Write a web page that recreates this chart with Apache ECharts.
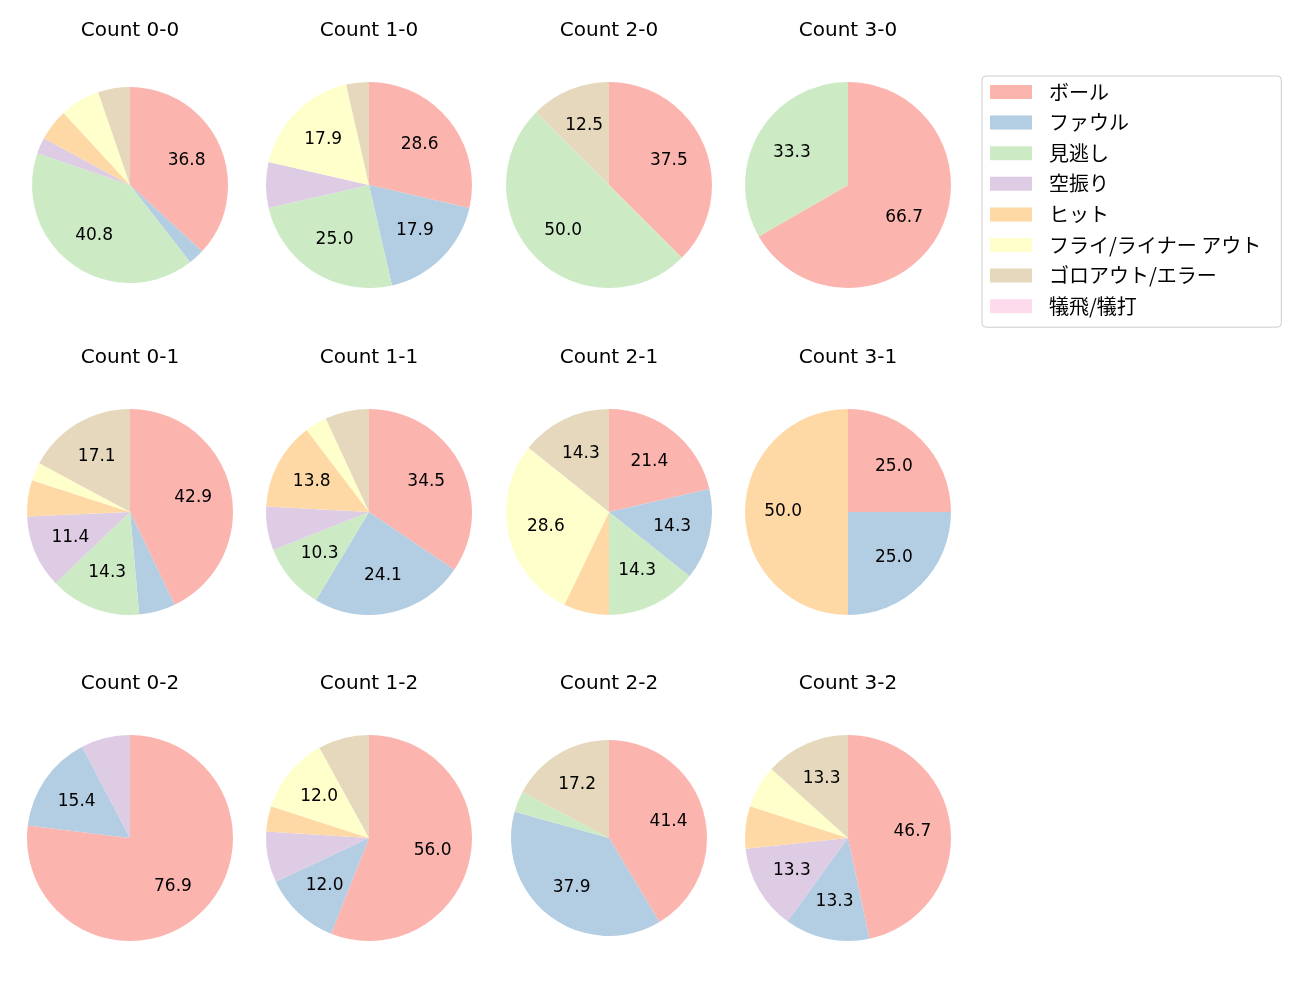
<!DOCTYPE html>
<html>
<head>
<meta charset="utf-8">
<script src="https://cdn.jsdelivr.net/npm/echarts@6/dist/echarts.min.js"></script>
<style>
html,body{margin:0;padding:0;background:#fff;}
#chart{width:1300px;height:1000px;}
</style>
</head>
<body>
<div id="chart"></div>
<script>
// Outcome categories (legend order)
const categories = ['ボール','ファウル','見逃し','空振り','ヒット','フライ/ライナー アウト','ゴロアウト/エラー','犠飛/犠打'];
const colors = ['#fbb4ae','#b3cde3','#ccebc5','#decbe4','#fed9a6','#ffffcc','#e5d8bd','#fddaec'];

// Pitch-count panels (titles) and counts per category
const panelTitles = ['Count 0-0','Count 1-0','Count 2-0','Count 3-0',
                     'Count 0-1','Count 1-1','Count 2-1','Count 3-1',
                     'Count 0-2','Count 1-2','Count 2-2','Count 3-2'];
const count00 = [28, 2, 31, 2, 4, 5, 4, 0];
const count10 = [8, 5, 7, 2, 0, 5, 1, 0];
const count20 = [3, 0, 4, 0, 0, 0, 1, 0];
const count30 = [2, 0, 1, 0, 0, 0, 0, 0];
const count01 = [15, 2, 5, 4, 2, 1, 6, 0];
const count11 = [10, 7, 3, 2, 4, 1, 2, 0];
const count21 = [3, 2, 2, 0, 1, 4, 2, 0];
const count31 = [1, 1, 0, 0, 2, 0, 0, 0];
const count02 = [10, 2, 0, 1, 0, 0, 0, 0];
const count12 = [14, 3, 0, 2, 1, 3, 2, 0];
const count22 = [12, 11, 1, 0, 0, 0, 5, 0];
const count32 = [7, 2, 0, 2, 1, 1, 2, 0];
const panelCounts = [count00,count10,count20,count30,count01,count11,count21,count31,count02,count12,count22,count32];

// layout
const colX = [130, 369, 609, 848];
const rowY = [185, 512, 838];
const radii = [98,103,103,103, 103,103,103,103, 103,103,98,103];
const titleY = [21, 348, 674];
const LATIN = '"DejaVu Sans", "Noto Sans CJK JP", sans-serif';
const CJK = '"Noto Sans CJK JP", "DejaVu Sans", sans-serif';

const series = [];
const titles = [];
panelCounts.forEach((vals, i) => {
  const col = i % 4, row = Math.floor(i / 4);
  const total = vals.reduce((a, b) => a + b, 0);
  const r = radii[i];
  const data = vals.map((v, k) => ({name: categories[k], value: v, itemStyle: {color: colors[k]}}));
  series.push({
    type: 'pie', center: [colX[col], rowY[row]], radius: [0, r],
    startAngle: 90, clockwise: true, silent: true, animation: false,
    label: {show: false}, labelLine: {show: false},
    emphasis: {disabled: true},
    itemStyle: {borderWidth: 0},
    data: data
  });
  series.push({
    type: 'pie', center: [colX[col], rowY[row]], radius: [0.2 * r, r],
    startAngle: 90, clockwise: true, silent: true, animation: false,
    legendHoverLink: false,
    emphasis: {disabled: true},
    itemStyle: {color: 'rgba(0,0,0,0)', borderWidth: 0},
    labelLine: {show: false},
    label: {
      show: true, position: 'inside', color: '#000', fontSize: 17, fontFamily: LATIN,
      formatter: p => {
        const pct = p.value / total * 100;
        return pct >= 10 ? pct.toFixed(1) : '';
      }
    },
    data: vals.map((v, k) => ({name: categories[k] + ' ', value: v}))
  });
  titles.push({
    text: panelTitles[i], left: colX[col], top: titleY[row], textAlign: 'center', padding: 0,
    textStyle: {fontSize: 20, fontWeight: 'normal', color: '#000', fontFamily: LATIN}
  });
});

const chart = echarts.init(document.getElementById('chart'), null, {renderer: 'canvas'});
chart.setOption({
  backgroundColor: '#fff',
  animation: false,
  title: titles,
  legend: {
    orient: 'vertical', left: 982, top: 76,
    padding: [6, 20, 11, 8],
    borderColor: '#cccccc', borderWidth: 1, borderRadius: 4,
    backgroundColor: '#fff',
    itemWidth: 42, itemHeight: 14, itemGap: 10.6,
    icon: 'rect', selectedMode: false,
    textStyle: {fontSize: 20, color: '#000', fontFamily: CJK, lineHeight: 20, padding: [0, 0, 0, 12]},
    data: categories.map((c, k) => ({name: c, itemStyle: {color: colors[k]}}))
  },
  series: series
});
</script>
</body>
</html>
